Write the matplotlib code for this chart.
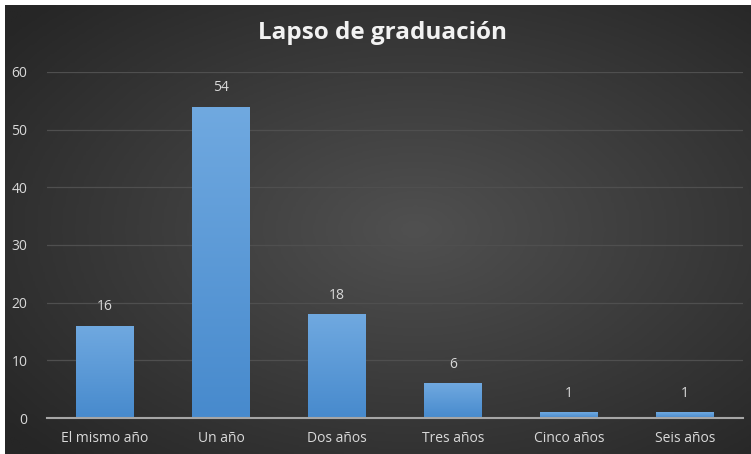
import numpy as np
import matplotlib.pyplot as plt
from matplotlib.colors import LinearSegmentedColormap

categorias = ["El mismo año", "Un año", "Dos años", "Tres años", "Cinco años", "Seis años"]
valores = [16, 54, 18, 6, 1, 1]
titulo = "Lapso de graduación"

W, H = 751, 454
fig = plt.figure(figsize=(W / 100, H / 100), dpi=100)
fig.patch.set_facecolor("white")

# dark radial background (leave a thin white band at top/left)
bg = fig.add_axes([5 / W, 0, 1 - 5 / W, 1 - 5 / H])
bg.axis("off")
yy, xx = np.mgrid[0:1:200j, 0:1:300j]
r = np.sqrt(((xx - 0.55) / 0.75) ** 2 + ((yy - 0.5) / 0.75) ** 2)
bg_cmap = LinearSegmentedColormap.from_list("bg", ["#505050", "#3b3b3b", "#262626"])
bg.imshow(r, cmap=bg_cmap, aspect="auto", extent=[0, 1, 0, 1], vmin=0, vmax=0.95)
bg.set_xlim(0, 1)
bg.set_ylim(0, 1)

ax = fig.add_axes([47 / W, (H - 418) / H, (743 - 47) / W, (418 - 72) / H])
ax.patch.set_alpha(0)
x = np.arange(len(categorias))

bars = ax.bar(x, valores, width=0.5, color="#5b9bd5", zorder=2)
bar_cmap = LinearSegmentedColormap.from_list("bar", ["#478acd", "#70a9e0"])
grad = np.linspace(0, 1, 256).reshape(-1, 1)
for b in bars:
    x0, y0 = b.get_x(), b.get_y()
    w, h = b.get_width(), b.get_height()
    im = ax.imshow(grad, cmap=bar_cmap, origin="lower", aspect="auto",
                   extent=[x0, x0 + w, y0, y0 + h], zorder=3)
    im.set_clip_path(b)
ax.set_xlim(-0.5, len(categorias) - 0.5)
ax.set_ylim(0, 60)

for xi, v in zip(x, valores):
    ax.text(xi, v + 2.0, str(v), ha="center", va="bottom", color="#d9d9d9",
            fontsize=10, family="Open Sans")

ax.set_yticks(range(0, 61, 10))
ax.yaxis.grid(True, color="#4f4f4f", linewidth=0.9, zorder=0)
ax.set_axisbelow(True)
ax.set_xticks(x)
ax.set_xticklabels(categorias)
for s in ["top", "right", "left"]:
    ax.spines[s].set_visible(False)
ax.spines["bottom"].set_color("#a6a6a6")
ax.spines["bottom"].set_linewidth(1.5)
ax.spines["bottom"].set_zorder(4)
ax.tick_params(axis="both", length=0, colors="#d9d9d9", labelsize=10)
ax.tick_params(axis="x", pad=9)
ax.tick_params(axis="y", pad=14)
for lbl in ax.get_xticklabels() + ax.get_yticklabels():
    lbl.set_family("Open Sans")

title = fig.text(383 / W, 1 - 33 / H, titulo, ha="center", va="center", color="#f2f2f2",
                 fontsize=17.5, fontweight="bold", family="Open Sans")
title.set_path_effects([])

fig.savefig("out.png", dpi=100, facecolor=fig.get_facecolor())
